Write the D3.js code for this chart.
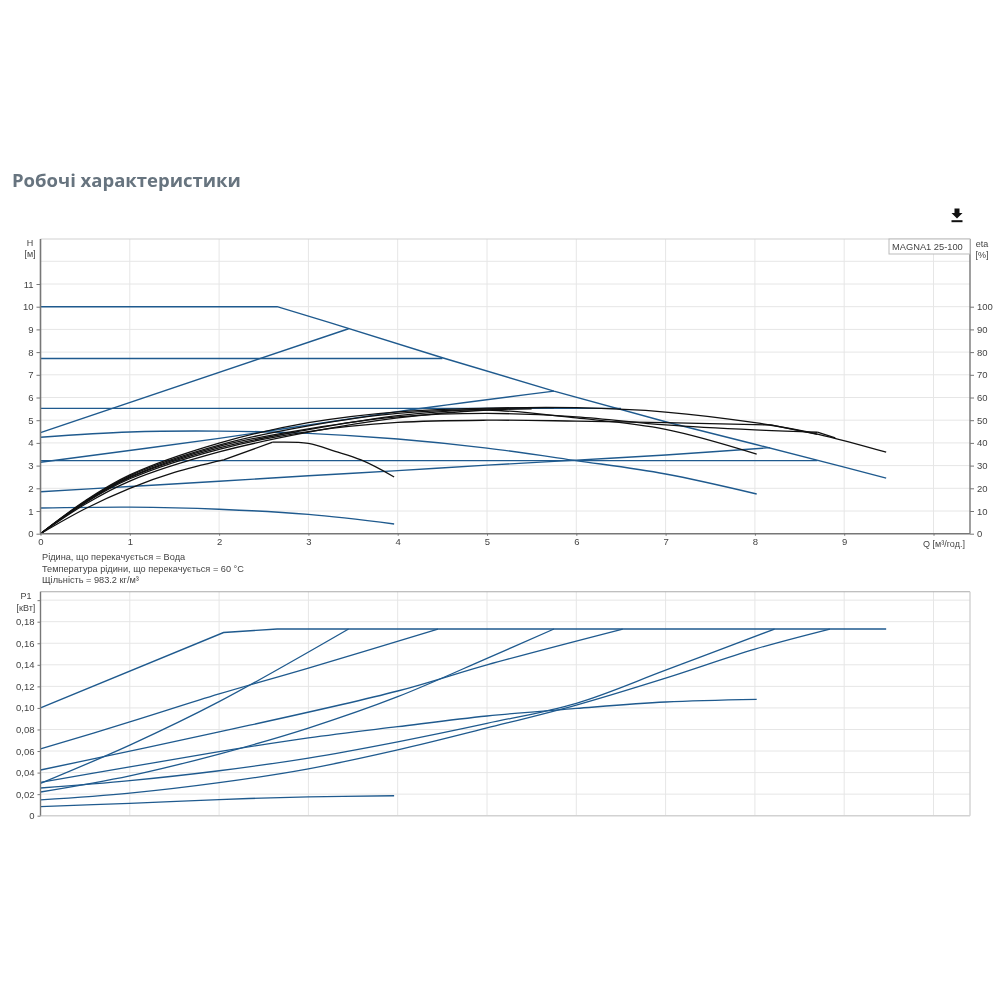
<!DOCTYPE html>
<html><head><meta charset="utf-8">
<script src="https://cdn.jsdelivr.net/npm/d3@7"></script>
<style>
html,body{margin:0;padding:0;background:#fff;width:1000px;height:1000px;overflow:hidden}
svg{display:block;filter:blur(0.35px)}
text{font-family:"Liberation Sans",Arial,sans-serif;font-size:9px;fill:#444}
</style></head><body>
<svg id="c" width="1000" height="1000"></svg>
<script>
const titleText = "Робочі характеристики";
const legendText = "MAGNA1 25-100";
const noteLines = ["Рідина, що перекачується = Вода","Температура рідини, що перекачується = 60 °C","Щільність = 983.2 кг/м³"];
const qTicks = [0,1,2,3,4,5,6,7,8,9,10];
const hTicks = [0,1,2,3,4,5,6,7,8,9,10,11];
const etaTicks = [0,10,20,30,40,50,60,70,80,90,100];
const pTicks = [0,0.02,0.04,0.06,0.08,0.10,0.12,0.14,0.16,0.18,0.20];

// Q-H curves with straight segments [Q, H]
const hMaxCurve = [[0,10],[2.65,10],[3.24,9.3],[4.51,7.74],[5.75,6.28],[7,4.93],[8,3.94],[9,2.93],[9.47,2.45]];
const hRising = [[0,4.45],[3.45,9.03]];
const hFlat77 = [[0,7.72],[4.5,7.72]];
const hFlat32 = [[0,3.22],[8.7,3.22]];
const hProp = [[0,3.15],[2,4.2],[4,5.38],[5.75,6.28]];
const hFlat55 = [[0,5.52],[6.5,5.52]];
// smooth Q-H curves
const hCurve45 = [[0,4.25],[1,4.48],[2,4.52],[3,4.42],[4,4.17],[5,3.77],[6,3.22],[7,2.63],[8.02,1.75]];
const hCurve19 = [[0,1.85],[1,2.08],[2,2.31],[3,2.55],[4,2.78],[5,3.02],[6,3.24],[7,3.47],[8.17,3.79]];
const hCurve11 = [[0,1.13],[1,1.17],[2,1.08],[3,.85],[3.96,.43]];
const hLinear = [hMaxCurve,hRising,hFlat77,hFlat32,hFlat55];
const hSmooth = [hProp,hCurve45,hCurve19,hCurve11];

// efficiency curves drawn against the H scale [Q, H]
const eta1 = [[0,0],[.5,1.45],[1,2.59],[2,3.99],[3,4.89],[4,5.37],[5,5.53],[6,5.55],[7,5.36],[8,4.89],[8.7,4.39],[9.47,3.59]];
const eta2 = [[0,0],[.5,1.36],[1,2.42],[2,3.72],[3,4.5],[4,4.9],[5,5.0],[6,4.96],[7,4.89],[8.18,4.79]];
const eta2Tail = [[8.18,4.79],[8.7,4.38]];
const eta3 = [[0,0],[.5,1.4],[1,2.5],[2,3.85],[3,4.62],[4,5.15],[5,5.3],[6,5.15],[7,4.79],[8,4.57],[8.7,4.47]];
const eta3Tail = [[8.7,4.47],[8.9,4.22]];
const eta4 = [[0,0],[.5,1.42],[1,2.55],[2,3.9],[3,4.75],[4,5.3],[5,5.45],[6,5.1],[7,4.6],[8.02,3.51]];
const eta5Low = [[0,0],[.5,1.1],[1,2.0],[1.5,2.7],[2.05,3.25]];
const eta5Link = [[2.05,3.25],[2.6,4.03]];
const eta5High = [[2.6,4.03],[3,3.98],[3.3,3.63],[3.59,3.25],[3.96,2.5]];
const eta6 = [[0,0],[.5,1.3],[1,2.32],[2,3.6],[3,4.47],[4,5.1],[5,5.45],[5.5,5.5]];
const eta7 = [[0,0],[.5,1.38],[1,2.47],[2,3.78],[3,4.58],[4,5.2],[5,5.5],[5.75,5.55]];
const etaSmooth = [eta1,eta2,eta3,eta4,eta5Low,eta5High,eta6,eta7];
const etaLinear = [eta2Tail,eta3Tail,eta5Link];

// power curves [Q, P1]
const pMax = [[0,.1],[2.05,.17],[2.65,.1732],[9.47,.1732]];
const pB = [[0,.03],[1,.0655],[2,.1058],[3.45,.1732]];
const pC = [[0,.0619],[1,.087],[2,.113],[3,.137],[4.45,.1732]];
const pD = [[0,.0424],[2,.0777],[4,.1157],[5,.14],[6.52,.1732]];
const pE = [[0,.022],[1,.037],[2,.0572],[3,.0813],[4,.1104],[5,.146],[5.75,.1732]];
const pF = [[0,.031],[1,.0452],[2,.0594],[3,.0722],[4,.0826],[5,.0925],[6,.0995],[7,.1055],[8.02,.108]];
const pG = [[0,.0257],[1,.0325],[2,.0417],[3,.0535],[4,.0686],[5,.0857],[6,.1043],[7,.135],[8.22,.1732]];
const pH = [[0,.0146],[1,.0209],[2,.0306],[3,.0435],[4,.061],[5,.0814],[6,.1027],[7,.1277],[8,.1546],[8.84,.1732]];
const pI = [[0,.0085],[1,.0115],[2,.015],[3,.0175],[3.96,.0185]];
const pLinear = [pMax];
const pSmooth = [pB,pC,pD,pE,pF,pG,pH,pI];

const BLUE="#1f5a8e", BLACK="#111", GRID="#e6e6e6", AXIS="#777", EDGE="#d2d2d2";
const svg=d3.select("#c");
const L=40.5,R=970,T1=239,B1=533.7,T2=591.7,B2=815.7;
const x=d3.scaleLinear().domain([0,10]).range([L,933.5]);
const y=d3.scaleLinear().domain([0,10]).range([B1,306.7]);
const yEta=d3.scaleLinear().domain([0,100]).range([B1,306.7]);
const yP=d3.scaleLinear().domain([0,.18]).range([B2,621.7]);
const fmtP=d=>d===0?"0":d3.format(".2f")(d).replace(".",",");

svg.append("text").text(titleText).attr("x",12).attr("y",187)
  .style("font-family","'Open Sans',sans-serif").style("font-weight","700").style("font-size","18.5px").style("fill","#67747f");

const ic=svg.append("g").attr("transform","translate(957,215)").attr("fill","#111");
ic.append("path").attr("d","M-2.5,-6.5H2.5V-2H5.5L0,3.5L-5.5,-2H-2.5Z");
ic.append("rect").attr("x",-5.5).attr("y",5.2).attr("width",11).attr("height",2);

function grid(g,ys,top,bottom){
  g.append("g").selectAll("line").data(qTicks.slice(1)).join("line").attr("x1",d=>x(d)).attr("x2",d=>x(d)).attr("y1",top).attr("y2",bottom).attr("stroke",GRID);
  g.append("g").selectAll("line").data(ys).join("line").attr("x1",L).attr("x2",R).attr("y1",d=>d).attr("y2",d=>d).attr("stroke",GRID);
}
function styleAxis(g){
  g.select(".domain").remove();
  g.selectAll(".tick line").attr("stroke",AXIS);
  g.selectAll(".tick text").style("fill","#444").style("font-size","9.5px");
}
const mk=(sc,c)=>d3.line().x(d=>x(d[0])).y(d=>sc(d[1])).curve(c);
function draw(g,data,sc,c,color,w){
  g.append("g").selectAll("path").data(data).join("path").attr("fill","none").attr("stroke",color).attr("stroke-width",w).attr("d",mk(sc,c));
}
const smooth=d3.curveCatmullRom.alpha(0.5), straight=d3.curveLinear;

const g1=svg.append("g");
grid(g1,d3.range(1,13).map(v=>y(v)),T1,B1);
g1.append("line").attr("x1",L).attr("x2",R).attr("y1",T1).attr("y2",T1).attr("stroke",EDGE).attr("stroke-width",1.2);
draw(g1,hLinear,y,straight,BLUE,1.4);
draw(g1,hSmooth,y,smooth,BLUE,1.4);
draw(g1,etaSmooth,y,smooth,BLACK,1.3);
draw(g1,etaLinear,y,straight,BLACK,1.3);
g1.append("line").attr("x1",L).attr("x2",L).attr("y1",T1).attr("y2",B1).attr("stroke",AXIS).attr("stroke-width",1.6);
g1.append("line").attr("x1",R).attr("x2",R).attr("y1",T1).attr("y2",B1).attr("stroke",AXIS).attr("stroke-width",1.4);
g1.append("line").attr("x1",L).attr("x2",R).attr("y1",B1).attr("y2",B1).attr("stroke",AXIS).attr("stroke-width",1.6);

svg.append("g").attr("transform",`translate(${L},0)`).call(d3.axisLeft(y).tickValues(hTicks).tickSize(4).tickPadding(3)).call(styleAxis);
svg.append("g").attr("transform",`translate(${R},0)`).call(d3.axisRight(yEta).tickValues(etaTicks).tickSize(4).tickPadding(3)).call(styleAxis);
svg.append("g").attr("transform",`translate(0,${B1})`).call(d3.axisBottom(x).tickValues(qTicks).tickSize(2).tickPadding(3).tickFormat(d=>d===10?"":d)).call(styleAxis);

svg.append("text").text("H").attr("x",30).attr("y",246).attr("text-anchor","middle");
svg.append("text").text("[м]").attr("x",30).attr("y",257).attr("text-anchor","middle");
svg.append("text").text("eta").attr("x",982).attr("y",247).attr("text-anchor","middle");
svg.append("text").text("[%]").attr("x",982).attr("y",258).attr("text-anchor","middle");
svg.append("text").text("Q [м³/год.]").attr("x",944).attr("y",547).attr("text-anchor","middle");

svg.append("rect").attr("x",889).attr("y",239).attr("width",81).attr("height",15).attr("fill","#fff").attr("stroke","#bbb");
svg.append("text").text(legendText).attr("x",892).attr("y",249.5).style("font-size","9.3px");

svg.append("g").selectAll("text").data(noteLines).join("text").text(d=>d).attr("x",42).attr("y",(d,i)=>560+i*11.7).style("font-size","9.2px");

const g2=svg.append("g");
grid(g2,pTicks.slice(1).map(v=>yP(v)),T2,B2);
g2.append("line").attr("x1",L).attr("x2",R).attr("y1",T2).attr("y2",T2).attr("stroke","#aaa").attr("stroke-width",1.1);
g2.append("line").attr("x1",L).attr("x2",R).attr("y1",B2).attr("y2",B2).attr("stroke",EDGE).attr("stroke-width",1.4);
g2.append("line").attr("x1",R).attr("x2",R).attr("y1",T2).attr("y2",B2).attr("stroke",EDGE).attr("stroke-width",1.4);
draw(g2,pLinear,yP,straight,BLUE,1.4);
draw(g2,pSmooth,yP,smooth,BLUE,1.3);
g2.append("line").attr("x1",L).attr("x2",L).attr("y1",T2).attr("y2",B2).attr("stroke",AXIS).attr("stroke-width",1.4);
svg.append("g").attr("transform",`translate(${L},0)`).call(d3.axisLeft(yP).tickValues(pTicks).tickSize(3).tickPadding(3).tickFormat(d=>d===.2?"":fmtP(d))).call(styleAxis);
svg.append("text").text("P1").attr("x",26).attr("y",599).attr("text-anchor","middle");
svg.append("text").text("[кВт]").attr("x",26).attr("y",611).attr("text-anchor","middle");
</script>
</body></html>
